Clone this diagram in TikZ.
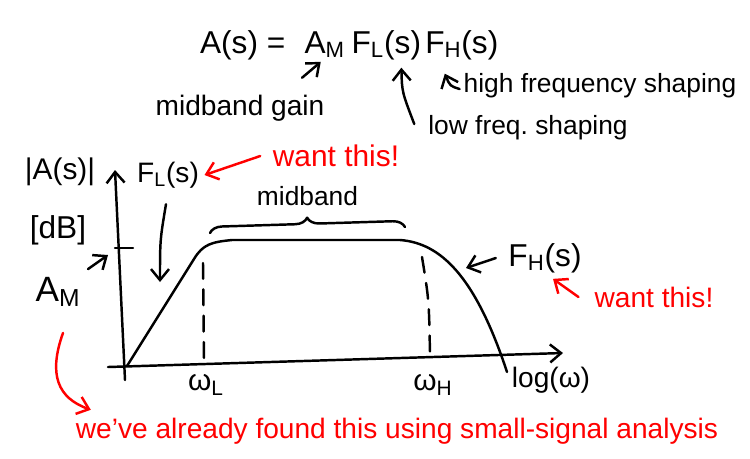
\documentclass[tikz,border=0pt]{standalone}
\usepackage{fontspec}
\setmainfont{Liberation Sans}
\usetikzlibrary{positioning,arrows.meta,decorations.pathreplacing}

\begin{document}
\begin{tikzpicture}[x=0.02cm, y=-0.02cm,
  ink/.style={line width=1.4pt, line cap=round, line join=round},
  arr/.style={ink, -{Straight Barb[length=2.2mm, width=3.6mm]}},
  redarr/.style={arr, red},
  lab/.style={font=\fontsize{#1}{#1}\selectfont, inner sep=1pt},
  redlab/.style={lab=#1, text=red},
  cutoff/.style={ink, dash pattern=on 9pt off 6pt}
]
\useasboundingbox (0,0) rectangle (750,458);

% the transfer function and what its parts mean
\node[lab=18, anchor=base west] (lhs) at (198,53) {A(s) =};
\node[lab=18, base right=0.3cm of lhs] (gm) {A\textsubscript{M}};
\node[lab=18, base right=0.05cm of gm] (fl) {F\textsubscript{L}(s)};
\node[lab=18, base right=0pt of fl] (fh) {F\textsubscript{H}(s)};
\node[lab=16] (mg) at (240,108) {midband gain};
\node[lab=15] (lfs) at (528,128) {low freq.\ shaping};
\node[lab=15] (hfs) at (600,86) {high frequency shaping};
\draw[arr] ([shift={(62,-15)}]mg.north) -- ([shift={(-4,2)}]gm.south);
\draw[arr] ([shift={(-12,-4)}]lfs.west) .. controls (402,92) .. ([shift={(15,6)}]fl.south);
\draw[arr] ([shift={(-2,3)}]hfs.west) .. controls (450,86) .. ([shift={(-17,12)}]fh.south);

% axes
\coordinate (o) at (127,366);
\coordinate (ytop) at (115,170);
\coordinate (xend) at (563,353);
\coordinate (tick) at (123,248);
\draw[arr] (125,380) -- (ytop);
\draw[arr] (108,367) -- (xend);
\draw[ink] (115,248) -- (133,248);
\node[lab=17] (ya) at (60,172) {|A(s)|};
\node[lab=18] (db) at (58,230) {[dB]};
\node[lab=20] (am) at (58,292) {A\textsubscript{M}};
\draw[arr] ([shift={(30,-6)}]am.north) -- ([shift={(-15,7)}]tick);

% the response
\draw[ink] (o) -- (194,259) .. controls (203,244) and (212,242) .. (232,240)
  -- (400,240) .. controls (440,243) and (475,275) .. (507,372);
\draw[cutoff] (203,263) -- (204,362);
\draw[cutoff] (422,257) .. controls (429,300) .. (430,356);
\node[lab=17] (wl) at (206,385) {ω\textsubscript{L}};
\node[lab=17] (wh) at (433,385) {ω\textsubscript{H}};
\node[lab=16] (lw) at (551,380) {log(ω)};
\draw[ink, decorate, decoration={brace, amplitude=7pt}] (210,233) -- node[lab=15, above=12pt] (mb) {midband} (405,227);

% the two shaping factors
\coordinate (lo slope) at (160,282);
\coordinate (hi knee) at (466,268);
\node[lab=16] (fl2) at (168,175) {F\textsubscript{L}(s)};
\node[lab=18] (fh2) at (545,258) {F\textsubscript{H}(s)};
\draw[arr] ([shift={(-2,14)}]fl2.south) .. controls (160,240) .. (lo slope);
\draw[arr] ([xshift=-6]fh2.west) -- (hi knee);

% red notes
\node[redlab=17] (want1) at (336,156) {want this!};
\node[redlab=16] (want2) at (654,297) {want this!};
\node[redlab=16] (found) at (397,431) {we've already found this using small-signal analysis};
\draw[redarr] ([xshift=-6]want1.west) -- ([xshift=2]fl2.east);
\draw[redarr] ([xshift=-8]want2.west) -- ([shift={(8,4)}]fh2.south);
\draw[redarr] ([shift={(5,24)}]am.south) .. controls (48,375) and (58,398) .. ([shift={(17,-6)}]found.north west);
\end{tikzpicture}
\end{document}
